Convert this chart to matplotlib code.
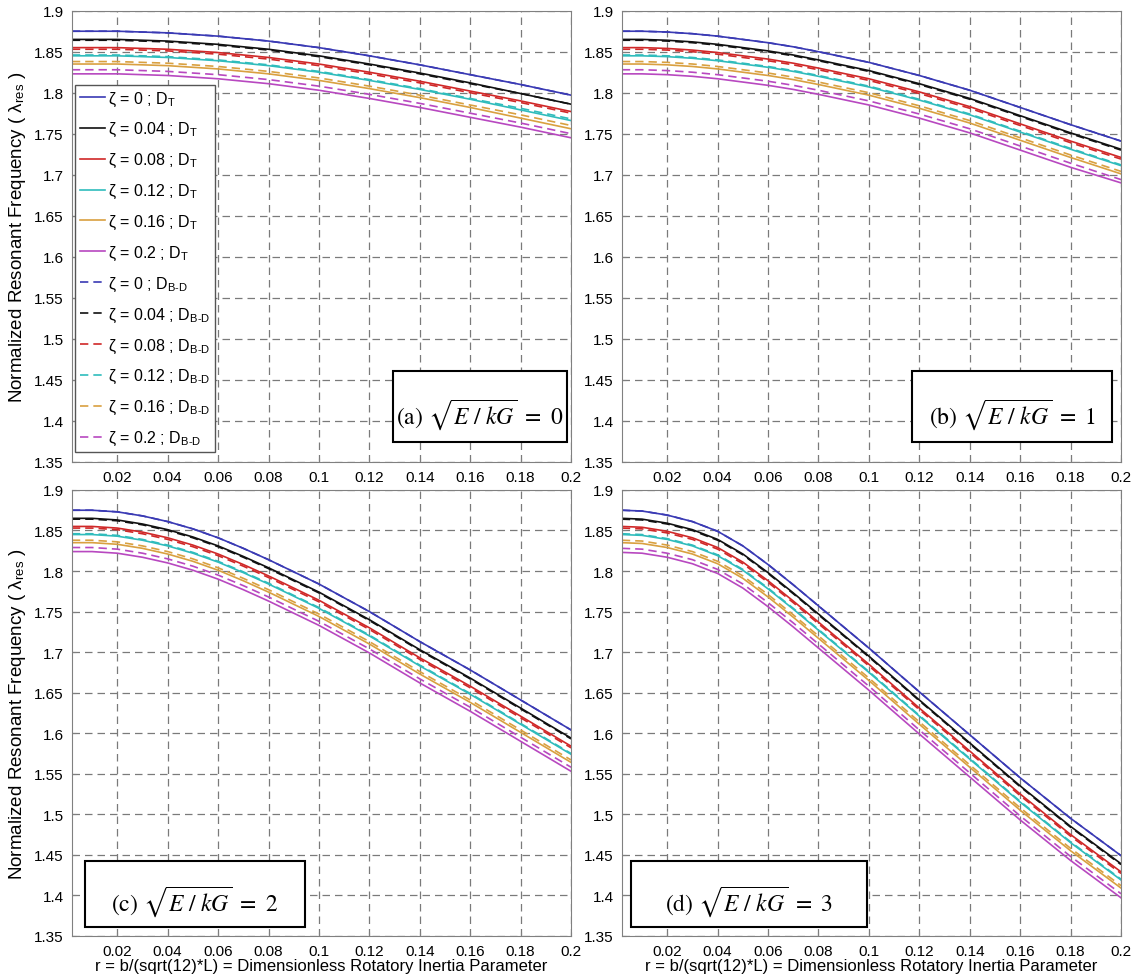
import numpy as np
import matplotlib
matplotlib.use("Agg")
import matplotlib.pyplot as plt
from matplotlib.patches import Rectangle

plt.rcParams["font.family"] = ["Liberation Sans", "DejaVu Sans"]
plt.rcParams["mathtext.fontset"] = "stix"

# rotatory inertia parameter r
r = [0.002, 0.01, 0.02, 0.03, 0.04, 0.05, 0.06, 0.07, 0.08, 0.1, 0.12, 0.14, 0.16, 0.18, 0.2]
zeta_labels = ["0", "0.04", "0.08", "0.12", "0.16", "0.2"]
colors = ["#3a3ab4", "#111111", "#d02828", "#2fbcbc", "#d9a040", "#b848c0"]

# (a) sqrt(E/kG) = 0
a_T = [
    [1.875, 1.875, 1.875, 1.874, 1.873, 1.871, 1.869, 1.866, 1.863, 1.855, 1.845, 1.834, 1.822, 1.810, 1.797],
    [1.865, 1.865, 1.865, 1.864, 1.863, 1.861, 1.859, 1.856, 1.853, 1.845, 1.835, 1.824, 1.812, 1.799, 1.786],
    [1.855, 1.855, 1.855, 1.854, 1.853, 1.851, 1.849, 1.846, 1.843, 1.835, 1.825, 1.814, 1.802, 1.790, 1.777],
    [1.845, 1.845, 1.845, 1.844, 1.843, 1.841, 1.839, 1.836, 1.833, 1.825, 1.815, 1.804, 1.792, 1.779, 1.766],
    [1.835, 1.835, 1.835, 1.834, 1.833, 1.831, 1.829, 1.826, 1.823, 1.815, 1.805, 1.794, 1.782, 1.769, 1.756],
    [1.823, 1.823, 1.823, 1.822, 1.821, 1.819, 1.817, 1.814, 1.811, 1.803, 1.793, 1.782, 1.770, 1.758, 1.745],
]
a_BD = [
    [1.875, 1.875, 1.875, 1.874, 1.873, 1.871, 1.869, 1.866, 1.863, 1.855, 1.845, 1.834, 1.822, 1.810, 1.797],
    [1.864, 1.864, 1.864, 1.863, 1.862, 1.860, 1.858, 1.855, 1.852, 1.844, 1.834, 1.823, 1.811, 1.799, 1.786],
    [1.853, 1.853, 1.853, 1.852, 1.851, 1.849, 1.847, 1.844, 1.841, 1.833, 1.823, 1.812, 1.800, 1.788, 1.775],
    [1.846, 1.846, 1.846, 1.845, 1.844, 1.842, 1.840, 1.837, 1.834, 1.826, 1.816, 1.805, 1.793, 1.781, 1.768],
    [1.838, 1.838, 1.838, 1.837, 1.836, 1.834, 1.832, 1.829, 1.826, 1.818, 1.808, 1.797, 1.785, 1.773, 1.760],
    [1.828, 1.828, 1.828, 1.827, 1.826, 1.824, 1.822, 1.819, 1.816, 1.808, 1.798, 1.787, 1.775, 1.763, 1.750],
]

# (b) sqrt(E/kG) = 1
b_T = [
    [1.875, 1.875, 1.874, 1.872, 1.869, 1.865, 1.861, 1.856, 1.850, 1.837, 1.821, 1.803, 1.782, 1.761, 1.741],
    [1.865, 1.865, 1.864, 1.862, 1.859, 1.855, 1.851, 1.846, 1.840, 1.827, 1.811, 1.793, 1.772, 1.751, 1.731],
    [1.855, 1.855, 1.854, 1.852, 1.849, 1.845, 1.841, 1.836, 1.830, 1.817, 1.801, 1.783, 1.762, 1.741, 1.721],
    [1.845, 1.845, 1.844, 1.842, 1.839, 1.835, 1.831, 1.826, 1.820, 1.807, 1.791, 1.773, 1.752, 1.731, 1.711],
    [1.835, 1.835, 1.834, 1.832, 1.829, 1.825, 1.821, 1.816, 1.810, 1.797, 1.781, 1.763, 1.742, 1.721, 1.701],
    [1.823, 1.823, 1.822, 1.820, 1.817, 1.813, 1.809, 1.804, 1.798, 1.785, 1.769, 1.751, 1.730, 1.709, 1.690],
]
b_BD = [
    [1.875, 1.875, 1.874, 1.872, 1.869, 1.865, 1.861, 1.856, 1.850, 1.837, 1.821, 1.803, 1.782, 1.761, 1.741],
    [1.864, 1.864, 1.863, 1.861, 1.858, 1.854, 1.850, 1.845, 1.839, 1.826, 1.810, 1.792, 1.771, 1.750, 1.730],
    [1.853, 1.853, 1.852, 1.850, 1.847, 1.843, 1.839, 1.834, 1.828, 1.815, 1.799, 1.781, 1.760, 1.739, 1.719],
    [1.846, 1.846, 1.845, 1.843, 1.840, 1.836, 1.832, 1.827, 1.821, 1.808, 1.792, 1.774, 1.753, 1.732, 1.712],
    [1.838, 1.838, 1.837, 1.835, 1.832, 1.828, 1.824, 1.819, 1.813, 1.800, 1.784, 1.766, 1.745, 1.724, 1.704],
    [1.828, 1.828, 1.827, 1.825, 1.822, 1.818, 1.814, 1.809, 1.803, 1.790, 1.774, 1.756, 1.735, 1.714, 1.694],
]

# (c) sqrt(E/kG) = 2
c_T = [
    [1.875, 1.875, 1.873, 1.868, 1.861, 1.852, 1.841, 1.828, 1.814, 1.784, 1.750, 1.713, 1.678, 1.641, 1.604],
    [1.865, 1.865, 1.863, 1.858, 1.851, 1.842, 1.831, 1.818, 1.804, 1.774, 1.740, 1.703, 1.668, 1.631, 1.594],
    [1.855, 1.855, 1.853, 1.848, 1.841, 1.832, 1.821, 1.808, 1.794, 1.764, 1.730, 1.693, 1.658, 1.621, 1.584],
    [1.845, 1.845, 1.843, 1.838, 1.831, 1.822, 1.811, 1.798, 1.784, 1.754, 1.720, 1.683, 1.648, 1.611, 1.574],
    [1.835, 1.835, 1.833, 1.828, 1.821, 1.812, 1.801, 1.788, 1.774, 1.744, 1.710, 1.673, 1.638, 1.601, 1.564],
    [1.824, 1.824, 1.822, 1.817, 1.810, 1.801, 1.790, 1.777, 1.763, 1.733, 1.699, 1.662, 1.627, 1.590, 1.553],
]
c_BD = [
    [1.875, 1.875, 1.873, 1.868, 1.861, 1.852, 1.841, 1.828, 1.814, 1.784, 1.750, 1.713, 1.678, 1.641, 1.604],
    [1.864, 1.864, 1.862, 1.857, 1.850, 1.841, 1.830, 1.817, 1.803, 1.773, 1.739, 1.702, 1.667, 1.630, 1.593],
    [1.853, 1.853, 1.851, 1.846, 1.839, 1.830, 1.819, 1.806, 1.792, 1.762, 1.728, 1.691, 1.656, 1.619, 1.582],
    [1.846, 1.846, 1.844, 1.839, 1.832, 1.823, 1.812, 1.799, 1.785, 1.755, 1.721, 1.684, 1.649, 1.612, 1.575],
    [1.838, 1.838, 1.836, 1.831, 1.824, 1.815, 1.804, 1.791, 1.777, 1.747, 1.713, 1.676, 1.641, 1.604, 1.567],
    [1.829, 1.829, 1.827, 1.822, 1.815, 1.806, 1.795, 1.782, 1.768, 1.738, 1.704, 1.667, 1.632, 1.595, 1.558],
]

# (d) sqrt(E/kG) = 3
d_T = [
    [1.875, 1.874, 1.869, 1.861, 1.849, 1.831, 1.808, 1.783, 1.757, 1.705, 1.651, 1.598, 1.545, 1.495, 1.449],
    [1.865, 1.864, 1.859, 1.851, 1.839, 1.821, 1.798, 1.773, 1.747, 1.695, 1.641, 1.588, 1.535, 1.485, 1.439],
    [1.855, 1.854, 1.849, 1.841, 1.829, 1.811, 1.788, 1.763, 1.737, 1.685, 1.631, 1.578, 1.525, 1.475, 1.429],
    [1.845, 1.844, 1.839, 1.831, 1.819, 1.801, 1.778, 1.753, 1.727, 1.675, 1.621, 1.568, 1.515, 1.465, 1.419],
    [1.835, 1.834, 1.829, 1.821, 1.809, 1.791, 1.768, 1.743, 1.717, 1.665, 1.611, 1.558, 1.505, 1.455, 1.409],
    [1.823, 1.822, 1.817, 1.809, 1.797, 1.779, 1.756, 1.731, 1.705, 1.653, 1.599, 1.546, 1.493, 1.443, 1.397],
]
d_BD = [
    [1.875, 1.874, 1.869, 1.861, 1.849, 1.831, 1.808, 1.783, 1.757, 1.705, 1.651, 1.598, 1.545, 1.495, 1.449],
    [1.864, 1.863, 1.858, 1.850, 1.838, 1.820, 1.797, 1.772, 1.746, 1.694, 1.640, 1.587, 1.534, 1.484, 1.438],
    [1.853, 1.852, 1.847, 1.839, 1.827, 1.809, 1.786, 1.761, 1.735, 1.683, 1.629, 1.576, 1.523, 1.473, 1.427],
    [1.846, 1.845, 1.840, 1.832, 1.820, 1.802, 1.779, 1.754, 1.728, 1.676, 1.622, 1.569, 1.516, 1.466, 1.420],
    [1.838, 1.837, 1.832, 1.824, 1.812, 1.794, 1.771, 1.746, 1.720, 1.668, 1.614, 1.561, 1.508, 1.458, 1.412],
    [1.828, 1.827, 1.822, 1.814, 1.802, 1.784, 1.761, 1.736, 1.710, 1.658, 1.604, 1.551, 1.498, 1.448, 1.402],
]

x_ticks = [0.02, 0.04, 0.06, 0.08, 0.1, 0.12, 0.14, 0.16, 0.18, 0.2]
x_labels = ["0.02", "0.04", "0.06", "0.08", "0.1", "0.12", "0.14", "0.16", "0.18", "0.2"]
y_ticks = [1.35, 1.4, 1.45, 1.5, 1.55, 1.6, 1.65, 1.7, 1.75, 1.8, 1.85, 1.9]
y_labels = ["1.35", "1.4", "1.45", "1.5", "1.55", "1.6", "1.65", "1.7", "1.75", "1.8", "1.85", "1.9"]

panels = [
    ("(a)", "0", a_T, a_BD, [0.063, 0.527, 0.4375, 0.461], (0.643, 0.044, 0.349, 0.158)),
    ("(b)", "1", b_T, b_BD, [0.545, 0.527, 0.4375, 0.461], (0.582, 0.044, 0.400, 0.158)),
    ("(c)", "2", c_T, c_BD, [0.063, 0.042, 0.4375, 0.456], (0.026, 0.020, 0.441, 0.148)),
    ("(d)", "3", d_T, d_BD, [0.545, 0.042, 0.4375, 0.456], (0.018, 0.020, 0.474, 0.148)),
]

fig = plt.figure(figsize=(11.41, 9.78), dpi=100)

for i, (tag, ekg, curves_T, curves_BD, pos, box) in enumerate(panels):
    ax = fig.add_axes(pos)
    for k in range(6):
        ax.plot(r, curves_T[k], color=colors[k], lw=1.2,
                label="\u03b6 = " + zeta_labels[k] + r" ; D$_\mathregular{T}$")
    for k in range(6):
        ax.plot(r, curves_BD[k], color=colors[k], lw=1.2, ls=(0, (5, 3)),
                label="\u03b6 = " + zeta_labels[k] + r" ; D$_\mathregular{B\text{-}D}$")
    ax.set_xlim(r[0], 0.2)
    ax.set_ylim(1.35, 1.9)
    ax.set_xticks(x_ticks)
    ax.set_xticklabels(x_labels)
    ax.set_yticks(y_ticks)
    ax.set_yticklabels(y_labels)
    ax.tick_params(direction="in", length=3, color="#808080", labelsize=11, pad=6)
    ax.grid(True, color="#7a7a7a", ls=(0, (6, 4)), lw=0.9)
    for s in ax.spines.values():
        s.set_color("#808080")

    # annotation box
    ax.add_patch(Rectangle((box[0], box[1]), box[2], box[3], transform=ax.transAxes,
                           facecolor="white", edgecolor="black", lw=1.5, zorder=5))
    ax.text(box[0] + box[2] / 2, box[1] + box[3] * 0.40,
            tag + r" $\sqrt{E\ /\ kG}\ =\ $" + ekg, transform=ax.transAxes,
            ha="center", va="center", fontsize=17, family="STIXGeneral", zorder=6)

    if i in (0, 2):
        ax.set_ylabel("Normalized Resonant Frequency ( \u03bb$_\\mathregular{res}$ )", fontsize=13.5, labelpad=4)
    if i in (2, 3):
        ax.set_xlabel("r = b/(sqrt(12)*L) = Dimensionless Rotatory Inertia Parameter", fontsize=12, labelpad=0)
    if i == 0:
        leg = ax.legend(loc="upper left", bbox_to_anchor=(0.006, 0.836), fontsize=11.5,
                        handlelength=1.6, handletextpad=0.2, labelspacing=0.8,
                        borderpad=0.3, borderaxespad=0, fancybox=False, framealpha=1)
        leg.get_frame().set_edgecolor("#555555")
        leg.get_frame().set_linewidth(1.0)
        leg.set_zorder(7)

fig.savefig("out.png", dpi=100)
